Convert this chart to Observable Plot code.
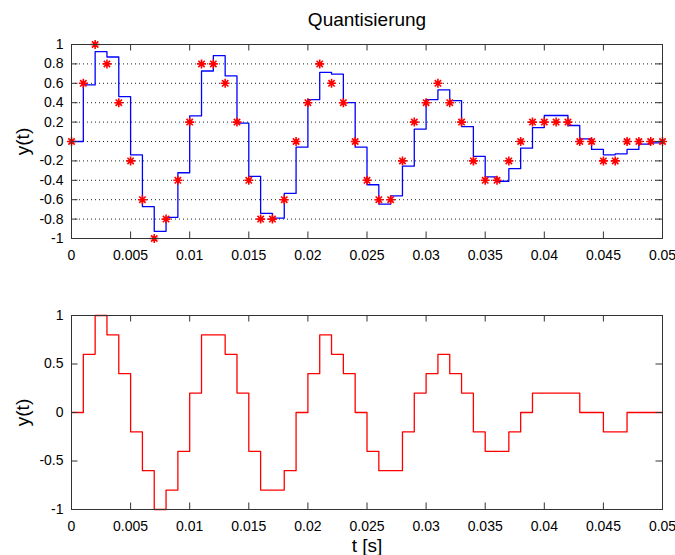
<!DOCTYPE html>
<html>
<head>
<meta charset="utf-8">
<script src="https://cdn.jsdelivr.net/npm/d3@7"></script>
<script src="https://cdn.jsdelivr.net/npm/@observablehq/plot@0.6"></script>
<style>
  body { margin: 0; background: #fff; }
  #chart { width: 675px; height: 555px; font-family: "Liberation Sans", Arial, Helvetica, sans-serif; }
  #chart svg { display: block; }
</style>
</head>
<body>
<div id="chart"></div>
<script>
// Sample instants (s)
const sampleTimes = [
  0, 0.001, 0.002, 0.003, 0.004, 0.005, 0.006, 0.007, 0.008, 0.009,
  0.010, 0.011, 0.012, 0.013, 0.014, 0.015, 0.016, 0.017, 0.018, 0.019,
  0.020, 0.021, 0.022, 0.023, 0.024, 0.025, 0.026, 0.027, 0.028, 0.029,
  0.030, 0.031, 0.032, 0.033, 0.034, 0.035, 0.036, 0.037, 0.038, 0.039,
  0.040, 0.041, 0.042, 0.043, 0.044, 0.045, 0.046, 0.047, 0.048, 0.049,
  0.050
];

// Sampled signal before quantisation
const signal = [
  0, 0.583, 0.926, 0.871, 0.463, -0.137, -0.672, -0.926, -0.782, -0.322,
  0.264, 0.727, 0.885, 0.676, 0.189, -0.36, -0.74, -0.79, -0.535, -0.058,
  0.432, 0.712, 0.695, 0.401, -0.058, -0.446, -0.645, -0.56, -0.254, 0.127,
  0.432, 0.532, 0.422, 0.154, -0.154, -0.364, -0.41, -0.28, -0.069, 0.144,
  0.268, 0.268, 0.165, 0.027, -0.082, -0.137, -0.127, -0.082, -0.027, -0.014,
  -0.01
];

// Quantised samples (step 0.2)
const quantized = [
  0, 0.6, 1.0, 0.8, 0.4, -0.2, -0.6, -1.0, -0.8, -0.4,
  0.2, 0.8, 0.8, 0.6, 0.2, -0.4, -0.8, -0.8, -0.6, 0,
  0.4, 0.8, 0.6, 0.4, 0, -0.4, -0.6, -0.6, -0.2, 0.2,
  0.4, 0.6, 0.4, 0.2, -0.2, -0.4, -0.4, -0.2, 0, 0.2,
  0.2, 0.2, 0.2, 0, 0, -0.2, -0.2, 0, 0, 0,
  0
];

const timeTicks = [0, 0.005, 0.01, 0.015, 0.02, 0.025, 0.03, 0.035, 0.04, 0.045, 0.05];
const timeTickLabels = ["0", "0.005", "0.01", "0.015", "0.02", "0.025", "0.03", "0.035", "0.04", "0.045", "0.05"];
const topYTicks = [-1, -0.8, -0.6, -0.4, -0.2, 0, 0.2, 0.4, 0.6, 0.8, 1];
const topYTickLabels = ["-1", "-0.8", "-0.6", "-0.4", "-0.2", "0", "0.2", "0.4", "0.6", "0.8", "1"];
const topGridLevels = [-0.8, -0.6, -0.4, -0.2, 0, 0.2, 0.4, 0.6, 0.8];
const bottomYTicks = [-1, -0.5, 0, 0.5, 1];
const bottomYTickLabels = ["-1", "-0.5", "0", "0.5", "1"];

const titleText = "Quantisierung";
const yLabelText = "y(t)";
const xLabelText = "t [s]";

const W = 675, marginLeft = 71, marginRight = 13;
const frameW = W - marginLeft - marginRight;
const tickLen = 6.5;
const idx = d3.range(sampleTimes.length);

// MATLAB-style '*' marker: eight spokes
const starSymbol = {
  draw(ctx, size) {
    const r = Math.sqrt(size / Math.PI);
    for (let k = 0; k < 4; ++k) {
      const a = (k * Math.PI) / 4;
      const c = Math.cos(a) * r, s = Math.sin(a) * r;
      ctx.moveTo(-c, -s);
      ctx.lineTo(c, s);
    }
  }
};

const label = (ticks, labels) => d => labels[ticks.indexOf(d)];

function boxMarks(frameH, yTicks, yLabels) {
  return [
    Plot.frame({stroke: "#333", strokeWidth: 1}),
    // inward ticks on all four sides
    Plot.tickX(timeTicks, {x: d => d, insetTop: frameH - tickLen, stroke: "#333"}),
    Plot.tickX(timeTicks, {x: d => d, insetBottom: frameH - tickLen, stroke: "#333"}),
    Plot.tickY(yTicks, {y: d => d, insetRight: frameW - tickLen, stroke: "#333"}),
    Plot.tickY(yTicks, {y: d => d, insetLeft: frameW - tickLen, stroke: "#333"}),
    Plot.axisX(timeTicks, {tickSize: 0, tickPadding: 12, tickFormat: label(timeTicks, timeTickLabels), label: null, fontSize: 14}),
    Plot.axisY(yTicks, {tickSize: 0, tickPadding: 8, tickFormat: label(yTicks, yLabels), label: null, fontSize: 14}),
    Plot.text([yLabelText], {text: d => d, frameAnchor: "left", textAnchor: "middle", lineAnchor: "middle", dx: -49, rotate: -90, fontSize: 19, ariaLabel: "ylabel"})
  ];
}

// Upper panel: sampled signal as staircase, quantised samples as stars
const upperH = 265, upperMT = 44, upperMB = 27;
const upperPlot = Plot.plot({
  width: W, height: upperH,
  marginLeft, marginRight, marginTop: upperMT, marginBottom: upperMB,
  style: {fontFamily: "'Liberation Sans', Arial, sans-serif", fontSize: "14px", color: "#000", background: "#fff", overflow: "visible"},
  x: {domain: [0, 0.05]},
  y: {domain: [-1, 1]},
  marks: [
    Plot.gridY(topGridLevels, {y: d => d, stroke: "#222", strokeOpacity: 1, strokeWidth: 1, strokeDasharray: "1,3"}),
    Plot.line(idx, {x: i => sampleTimes[i], y: i => signal[i], curve: "step-after", stroke: "#0000ff", strokeWidth: 1.3}),
    Plot.dot(idx, {x: i => sampleTimes[i], y: i => quantized[i], symbol: starSymbol, r: 4.5, stroke: "#ff0000", strokeWidth: 1.6, fill: "none"}),
    ...boxMarks(upperH - upperMT - upperMB, topYTicks, topYTickLabels),
    Plot.text([titleText], {text: d => d, frameAnchor: "top", lineAnchor: "middle", dy: -25, fontSize: 19, ariaLabel: "title"})
  ]
});

// Lower panel: quantised signal as staircase
const lowerH = 290, lowerMT = 50, lowerMB = 46;
const lowerPlot = Plot.plot({
  width: W, height: lowerH,
  marginLeft, marginRight, marginTop: lowerMT, marginBottom: lowerMB,
  style: {fontFamily: "'Liberation Sans', Arial, sans-serif", fontSize: "14px", color: "#000", background: "#fff", overflow: "visible"},
  x: {domain: [0, 0.05]},
  y: {domain: [-1, 1]},
  marks: [
    Plot.line(idx, {x: i => sampleTimes[i], y: i => quantized[i], curve: "step-after", stroke: "#ff0000", strokeWidth: 1.3}),
    ...boxMarks(lowerH - lowerMT - lowerMB, bottomYTicks, bottomYTickLabels),
    Plot.text([xLabelText], {text: d => d, frameAnchor: "bottom", lineAnchor: "middle", dy: 36, fontSize: 19, ariaLabel: "xlabel"})
  ]
});

for (const svg of [upperPlot, lowerPlot]) {
  d3.select(svg).selectAll("g[aria-label=title] text, g[aria-label=xlabel] text, g[aria-label=ylabel] text")
    .style("letter-spacing", "1px");
}

const chart = document.getElementById("chart");
chart.append(upperPlot, lowerPlot);
</script>
</body>
</html>
